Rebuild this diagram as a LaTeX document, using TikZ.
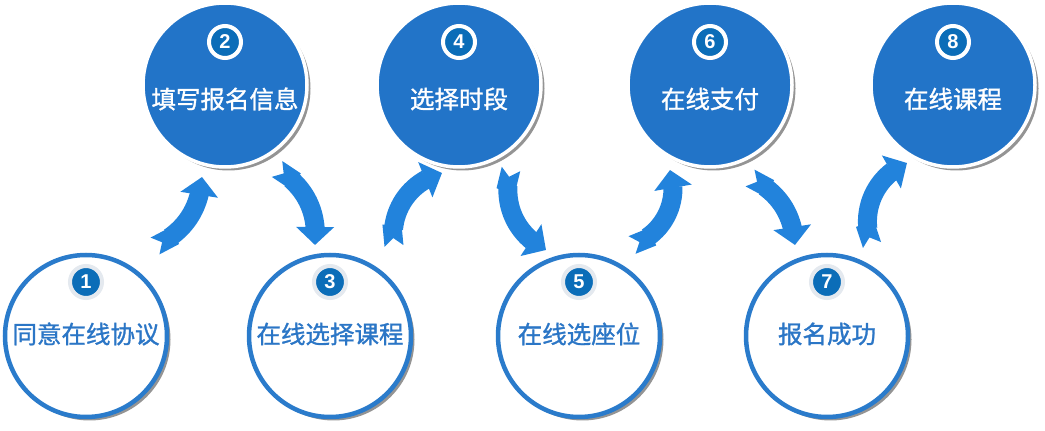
\documentclass[tikz,border=0pt]{standalone}
\usepackage{fontspec}
\newfontfamily\cjk[FakeBold=1.2]{Noto Sans CJK SC}
\setsansfont{Liberation Sans}
\usetikzlibrary{arrows.meta,bending,shadows}
\definecolor{topblue}{HTML}{2274C8}
\definecolor{ringblue}{HTML}{2A7BCB}
\definecolor{textblue}{HTML}{2B76C6}
\definecolor{badgeblue}{HTML}{0B6DB8}
\definecolor{badgering}{HTML}{E4E9EF}
\definecolor{arrowblue}{HTML}{2283DC}
\tikzset{
  stepshadow/.style={drop shadow={shadow xshift=3.5pt,shadow yshift=-3.5pt,fill=black,opacity=.42}},
  topstep/.style={circle,minimum size=164pt,inner sep=0pt,fill=topblue,draw=white,line width=3.5pt,stepshadow},
  botstep/.style={circle,minimum size=162pt,inner sep=0pt,fill=white,draw=ringblue,line width=4.5pt,stepshadow},
  badge/.style={circle,minimum size=32pt,inner sep=0pt,fill=badgeblue,line width=4pt,text=white,
    font=\sffamily\bfseries\fontsize{20}{20}\selectfont},
  toptext/.style={text=white,font=\cjk\fontsize{24.5}{24.5}\selectfont},
  bottext/.style={text=textblue,font=\cjk\fontsize{24.5}{24.5}\selectfont},
  flow/.style={draw=arrowblue,line width=19pt,
    arrows={Triangle Cap[reversed,length=8pt]-Triangle[width=37pt,length=18pt]}}
}
\begin{document}
\begin{tikzpicture}[x=1pt,y=1pt]
\useasboundingbox (0,0) rectangle (1045,431);
\coordinate (c1) at (86,95);
\coordinate (c2) at (225,346);
\coordinate (c3) at (330,95);
\coordinate (c4) at (459,346);
\coordinate (c5) at (579,95);
\coordinate (c6) at (710,346);
\coordinate (c7) at (827,95);
\coordinate (c8) at (953,346);
% arrow ends
\coordinate (t12) at ([shift={(69,90)}]c1);
\coordinate (h12) at ([shift={(-23,-92)}]c2);
\coordinate (t23) at ([shift={(52,-84)}]c2);
\coordinate (h23) at ([shift={(-15,91)}]c3);
\coordinate (t34) at ([shift={(64,90)}]c3);
\coordinate (h34) at ([shift={(-17,-88)}]c4);
\coordinate (t45) at ([shift={(52,-84)}]c4);
\coordinate (h45) at ([shift={(-33,86)}]c5);
\coordinate (t56) at ([shift={(53,91)}]c5);
\coordinate (h56) at ([shift={(-40,-85)}]c6);
\coordinate (t67) at ([shift={(40,-93)}]c6);
\coordinate (h67) at ([shift={(-32,91)}]c7);
\coordinate (t78) at ([shift={(45,91)}]c7);
\coordinate (h78) at ([shift={(-46,-78)}]c8);
\draw[flow] (t12) to[bend right=30] (h12);
\draw[flow] (t23) to[bend left=32] (h23);
\draw[flow] (t34) to[bend left=42] (h34);
\draw[flow] (t45) to[bend right=40] (h45);
\draw[flow] (t56) to[bend right=45] (h56);
\draw[flow] (t67) to[bend left=30] (h67);
\draw[flow] (t78) to[bend left=45] (h78);
% steps
\foreach \n/\t in {1/同意在线协议,3/在线选择课程,5/在线选座位,7/报名成功}{
  \node[botstep] (s\n) at (c\n) {};
  \node[badge,draw=badgering] (b\n) at ([yshift=54pt]c\n) {\n};
  \node[bottext] (l\n) at ([yshift=2pt]c\n) {\t};
}
\foreach \n/\t in {2/填写报名信息,4/选择时段,6/在线支付,8/在线课程}{
  \node[topstep] (s\n) at (c\n) {};
  \node[badge,draw=white] (b\n) at ([yshift=43pt]c\n) {\n};
  \node[toptext] (l\n) at ([yshift=-14pt]c\n) {\t};
}
\end{tikzpicture}
\end{document}
